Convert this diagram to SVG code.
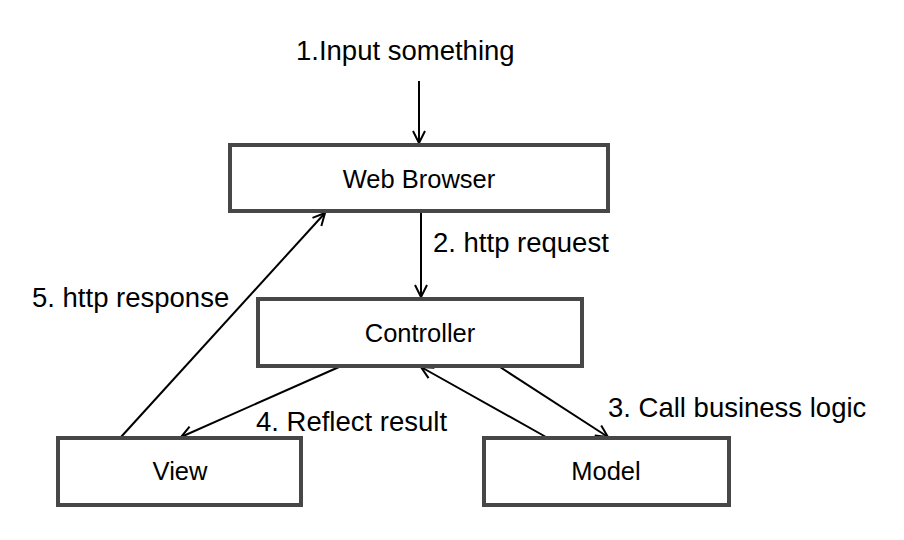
<svg xmlns="http://www.w3.org/2000/svg" width="904" height="540" viewBox="0 0 904 540">
<style>
.box{fill:#fff;stroke:#474747;stroke-width:4}
.lbl{font-family:"Liberation Sans",Arial,sans-serif;font-size:25.5px;fill:#000;text-anchor:middle}
.elbl{font-family:"Liberation Sans",Arial,sans-serif;font-size:27.5px;fill:#000}
.edge{stroke:#000;stroke-width:2;fill:none;marker-end:url(#arr)}
</style>
<defs>
<marker id="arr" markerUnits="userSpaceOnUse" viewBox="-14 -8 16 16" refX="0" refY="0" markerWidth="16" markerHeight="16" orient="auto">
<path d="M-12,-6 L0,0 L-12,6" fill="none" stroke="#000" stroke-width="2"/>
</marker>
</defs>
<rect width="904" height="540" fill="#fff"/>
<g id="connectors">
<line class="edge" x1="419" y1="81" x2="419" y2="143"/>
<line class="edge" x1="421" y1="213" x2="421" y2="297"/>
<line class="edge" x1="121" y1="437" x2="325" y2="213"/>
<line class="edge" x1="339" y1="367" x2="181" y2="437"/>
<line class="edge" x1="546" y1="437" x2="421" y2="367"/>
<line class="edge" x1="500" y1="367" x2="608" y2="437"/>
<text class="elbl" x="296" y="60">1.Input something</text>
<text class="elbl" x="433" y="252">2. http request</text>
<text class="elbl" x="32" y="307">5. http response</text>
<text class="elbl" x="256" y="431">4. Reflect result</text>
<text class="elbl" x="608" y="417">3. Call business logic</text>
</g>
<g id="web-browser">
<rect class="box" x="230" y="145" width="378" height="66"/>
<text class="lbl" x="419" y="188">Web Browser</text>
</g>
<g id="controller">
<rect class="box" x="258" y="299" width="324" height="67"/>
<text class="lbl" x="420" y="342">Controller</text>
</g>
<g id="view">
<rect class="box" x="58" y="438" width="243" height="67"/>
<text class="lbl" x="180" y="480">View</text>
</g>
<g id="model">
<rect class="box" x="484" y="438" width="245" height="67"/>
<text class="lbl" x="606" y="480">Model</text>
</g>
</svg>
